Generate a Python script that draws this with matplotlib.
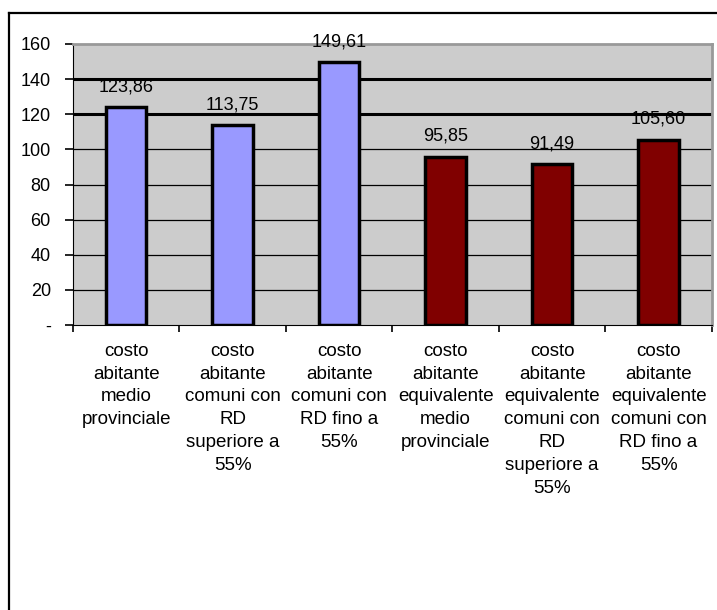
import matplotlib

matplotlib.use("Agg")
import matplotlib.pyplot as plt
from matplotlib.lines import Line2D

categories = [
    "costo\nabitante\nmedio\nprovinciale",
    "costo\nabitante\ncomuni con\nRD\nsuperiore a\n55%",
    "costo\nabitante\ncomuni con\nRD fino a\n55%",
    "costo\nabitante\nequivalente\nmedio\nprovinciale",
    "costo\nabitante\nequivalente\ncomuni con\nRD\nsuperiore a\n55%",
    "costo\nabitante\nequivalente\ncomuni con\nRD fino a\n55%",
]
values = [123.86, 113.75, 149.61, 95.85, 91.49, 105.60]
value_labels = ["123,86", "113,75", "149,61", "95,85", "91,49", "105,60"]
colors = ["#9999FF", "#9999FF", "#9999FF", "#800000", "#800000", "#800000"]
y_ticks = [0, 20, 40, 60, 80, 100, 120, 140, 160]
y_tick_labels = ["-", "20", "40", "60", "80", "100", "120", "140", "160"]
thick_grid = [120, 140]

plt.rcParams["font.family"] = ["Liberation Sans", "DejaVu Sans"]

fig = plt.figure(figsize=(7.17, 6.10), dpi=100)
# outer frame: only top and left edges visible
fig.lines.append(Line2D([0.0125, 0.0125], [0.0, 0.978], transform=fig.transFigure,
                        color="black", linewidth=1.6))
fig.lines.append(Line2D([0.0125, 1.0], [0.978, 0.978], transform=fig.transFigure,
                        color="black", linewidth=1.6))

ax = fig.add_axes([0.1018, 0.467, 0.891, 0.461])
ax.set_facecolor("#CCCCCC")

x = list(range(len(values)))
ax.set_xlim(-0.5, len(values) - 0.5)
ax.set_ylim(0, 160)

for y in y_ticks[1:-1]:
    lw = 2.2 if y in thick_grid else 0.9
    ax.axhline(y, color="black", linewidth=lw, zorder=1)

ax.bar(x, values, width=0.38, color=colors, edgecolor="black", linewidth=2.5, zorder=3)

for xi, v, lab in zip(x, values, value_labels):
    ax.annotate(lab, (xi, v), xytext=(0, 8.5), textcoords="offset points",
                ha="center", va="bottom", fontsize=13, zorder=4)

ax.set_yticks(y_ticks)
ax.set_yticklabels(y_tick_labels, fontsize=13)
ax.set_xticks([i - 0.5 for i in range(len(values) + 1)])
ax.set_xticklabels([])
ax.tick_params(axis="y", direction="out", length=6, width=1.2, pad=10)
ax.tick_params(axis="x", direction="out", length=5, width=1.2)

for xi, cat in zip(x, categories):
    ax.text(xi, -10, cat, ha="center", va="top", fontsize=13.5, linespacing=1.45)

for side in ["top", "right"]:
    ax.spines[side].set_color("#999999")
    ax.spines[side].set_linewidth(2)
ax.spines["left"].set_color("black")
ax.spines["bottom"].set_color("black")

fig.savefig("out.png", dpi=100)
